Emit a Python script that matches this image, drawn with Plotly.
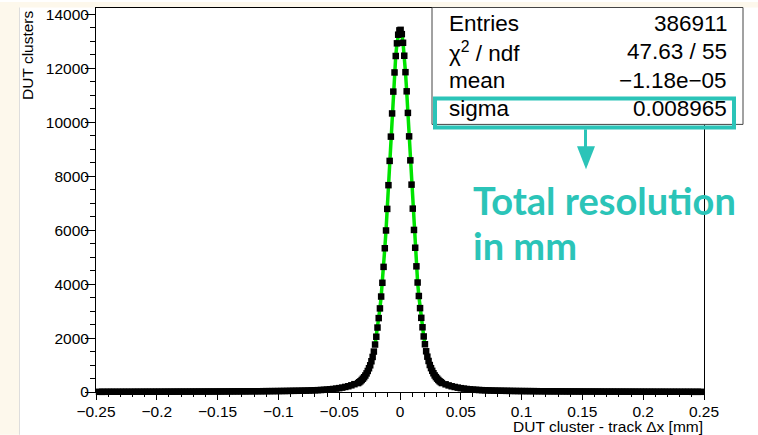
import numpy as np
import plotly.graph_objects as go

# ---------------- data ----------------
# core bins, width 0.001, centres +/-0.0005 ... +/-0.0345, listed from the centre outward
core_right = [13430, 13270, 12950, 12470, 11860, 11150, 10350, 9480, 8590, 7690,
              6800, 6010, 5350, 4660, 4060, 3560, 3110, 2750, 2400, 2060,
              1770, 1510, 1310, 1150, 1000, 885, 785, 695, 615, 552,
              497, 447, 402, 366, 332]
core_left = [13410, 13250, 12930, 12460, 11850, 11140, 10330, 9470, 8570, 7670,
             6790, 5990, 5330, 4640, 4050, 3540, 3100, 2740, 2390, 2050,
             1760, 1500, 1300, 1140, 990, 880, 780, 690, 612, 548,
             494, 445, 400, 363, 330]
# tails, sampled every 0.0025 from |x| = 0.0375 outward
tail_right = [285, 245, 212, 186, 162, 142, 125, 111, 99, 89,
              81, 74, 68, 63, 59, 55, 52, 49, 47, 45,
              43, 41, 39, 38, 36, 35, 34, 33, 32, 31,
              30, 29, 28, 27, 26, 25, 25, 24, 24, 23,
              22, 22, 21, 21, 20, 20, 19, 19, 18, 18,
              17, 17, 16, 16, 16, 15, 15, 14, 14, 14,
              13, 13, 13, 12, 12, 12, 11, 11, 11, 10,
              10, 10, 10, 9, 9, 9, 9, 8, 8, 8,
              8, 7, 7, 7, 7]
tail_left = [290, 248, 214, 188, 163, 144, 126, 112, 100, 90,
             82, 75, 69, 64, 60, 56, 52, 50, 47, 45,
             44, 42, 40, 38, 37, 35, 34, 33, 32, 31,
             30, 29, 28, 27, 27, 26, 25, 24, 24, 23,
             23, 22, 21, 21, 20, 20, 19, 19, 18, 18,
             17, 17, 17, 16, 16, 15, 15, 15, 14, 14,
             13, 13, 13, 12, 12, 12, 11, 11, 11, 11,
             10, 10, 10, 9, 9, 9, 9, 8, 8, 8,
             8, 8, 7, 7, 7]
CORE_W = 0.001
TAIL_START, TAIL_STEP = 0.0375, 0.0025
FIT_RANGE = 0.0215

stat_names = ["Entries", "χ<sup>2</sup> / ndf", "mean", "sigma"]
stat_values = ["386911", "47.63 / 55", "−1.18e−05", "0.008965"]

x_title = "DUT cluster - track Δx [mm]"
y_title = "DUT clusters"
callout = ["Total resolution", "in mm"]

# ---------------- assemble ----------------
cr = [CORE_W * (i + 0.5) for i in range(len(core_right))]
cl = [-CORE_W * (i + 0.5) for i in range(len(core_left))]
tr = [TAIL_START + TAIL_STEP * i for i in range(len(tail_right))]
tl = [-(TAIL_START + TAIL_STEP * i) for i in range(len(tail_left))]

xs = tl[::-1] + cl[::-1] + cr + tr
ys = tail_left[::-1] + core_left[::-1] + core_right + tail_right

fx = [x for x in cl[::-1] + cr if abs(x) <= FIT_RANGE]
fy = [y for x, y in zip(cl[::-1] + cr, core_left[::-1] + core_right) if abs(x) <= FIT_RANGE]

W, H = 758, 435
L, R, T, B = 96, 54, 6, 43
PW, PH = W - L - R, H - T - B


def px(x):
    return (x - L) / PW


def py(y):
    return (H - B - y) / PH


TEAL = "#2BC4B8"
CREAM = "#FDF8EC"
FONT = "Liberation Sans, Arial, Helvetica, sans-serif"

fig = go.Figure()
fig.add_trace(go.Scatter(x=fx, y=fy, mode="lines",
                         line=dict(color="#00E400", width=3.5),
                         hoverinfo="skip", showlegend=False))
fig.add_trace(go.Scatter(x=xs, y=ys, mode="markers",
                         marker=dict(symbol="square", size=6.5, color="black",
                                     line=dict(width=0)),
                         cliponaxis=False, showlegend=False))

shapes = [
    # cream page strips
    dict(type="rect", xref="paper", yref="paper", x0=px(0), x1=px(19.5), y0=py(H), y1=py(0),
         fillcolor=CREAM, line=dict(width=0), layer="below"),
    dict(type="rect", xref="paper", yref="paper", x0=px(0), x1=px(W), y0=py(5.5), y1=py(0),
         fillcolor=CREAM, line=dict(width=0), layer="below"),
    dict(type="line", xref="paper", yref="paper", x0=px(19.5), x1=px(19.5), y0=py(H), y1=py(5.5),
         line=dict(color="#DDDDDD", width=1), layer="below"),
    # stats box
    dict(type="rect", xref="paper", yref="paper", x0=px(432), x1=px(743), y0=py(123), y1=py(5.5),
         fillcolor="white", line=dict(color="#444444", width=1), layer="above"),
    # highlight box around sigma
    dict(type="rect", xref="paper", yref="paper", x0=px(435), x1=px(734), y0=py(126), y1=py(97),
         fillcolor="rgba(0,0,0,0)", line=dict(color=TEAL, width=4), layer="above"),
    # arrow
    dict(type="line", xref="paper", yref="paper", x0=px(585.5), x1=px(585.5), y0=py(128), y1=py(148),
         line=dict(color=TEAL, width=3), layer="above"),
    dict(type="path", xref="paper", yref="paper",
         path="M {} {} L {} {} L {} {} Z".format(px(577), py(145), px(595), py(145), px(586), py(168)),
         fillcolor=TEAL, line=dict(color=TEAL, width=0), layer="above"),
]

ann = []
baselines = [30, 58, 87, 115]
for name, val, b in zip(stat_names, stat_values, baselines):
    ann.append(dict(text=name, xref="paper", yref="paper", x=px(447), y=py(b - 8),
                    xanchor="left", yanchor="middle", showarrow=False,
                    font=dict(family=FONT, size=22.5, color="black")))
    ann.append(dict(text=val, xref="paper", yref="paper", x=px(729), y=py(b - 8),
                    xanchor="right", yanchor="middle", showarrow=False,
                    font=dict(family=FONT, size=22.5, color="black")))
ann.append(dict(text=callout[0], xref="paper", yref="paper", x=px(471), y=py(199),
                xanchor="left", yanchor="middle", showarrow=False,
                font=dict(family="Lato", size=38, color=TEAL, weight="bold")))
ann.append(dict(text=callout[1], xref="paper", yref="paper", x=px(471), y=py(244),
                xanchor="left", yanchor="middle", showarrow=False,
                font=dict(family="Lato", size=38, color=TEAL, weight="bold")))
ann.append(dict(text=x_title, xref="paper", yref="paper", x=px(705), y=py(427),
                xanchor="right", yanchor="middle", showarrow=False,
                font=dict(family=FONT, size=15.5, color="black")))
ann.append(dict(text=y_title, xref="paper", yref="paper", x=px(27), y=py(6),
                xanchor="center", yanchor="top", textangle=-90, showarrow=False,
                font=dict(family=FONT, size=15.5, color="black")))

fig.update_layout(
    width=W, height=H, margin=dict(l=L, r=R, t=T, b=B, pad=0),
    paper_bgcolor="white", plot_bgcolor="white",
    font=dict(family=FONT, size=15.5, color="black"),
    shapes=shapes, annotations=ann, showlegend=False,
    xaxis=dict(range=[-0.25, 0.25], tick0=0, dtick=0.05, showgrid=False, zeroline=False,
               showline=True, linecolor="black", linewidth=1, mirror=True,
               ticks="outside", ticklen=7, tickcolor="black", tickwidth=1,
               ticklabelstandoff=-2,
               minor=dict(dtick=0.01, ticks="outside", ticklen=4, tickcolor="black", showgrid=False),
               tickfont=dict(family=FONT, size=15.5, color="black")),
    yaxis=dict(range=[0, 14240], tick0=0, dtick=2000, tickformat="d", showgrid=False, zeroline=False,
               showline=True, linecolor="black", linewidth=1, mirror=True,
               ticks="outside", ticklen=10, tickcolor="black", tickwidth=1,
               ticklabelstandoff=-7,
               minor=dict(dtick=500, ticks="outside", ticklen=5, tickcolor="black", showgrid=False),
               tickfont=dict(family=FONT, size=15.5, color="black")),
)

fig.write_html("out.html")
